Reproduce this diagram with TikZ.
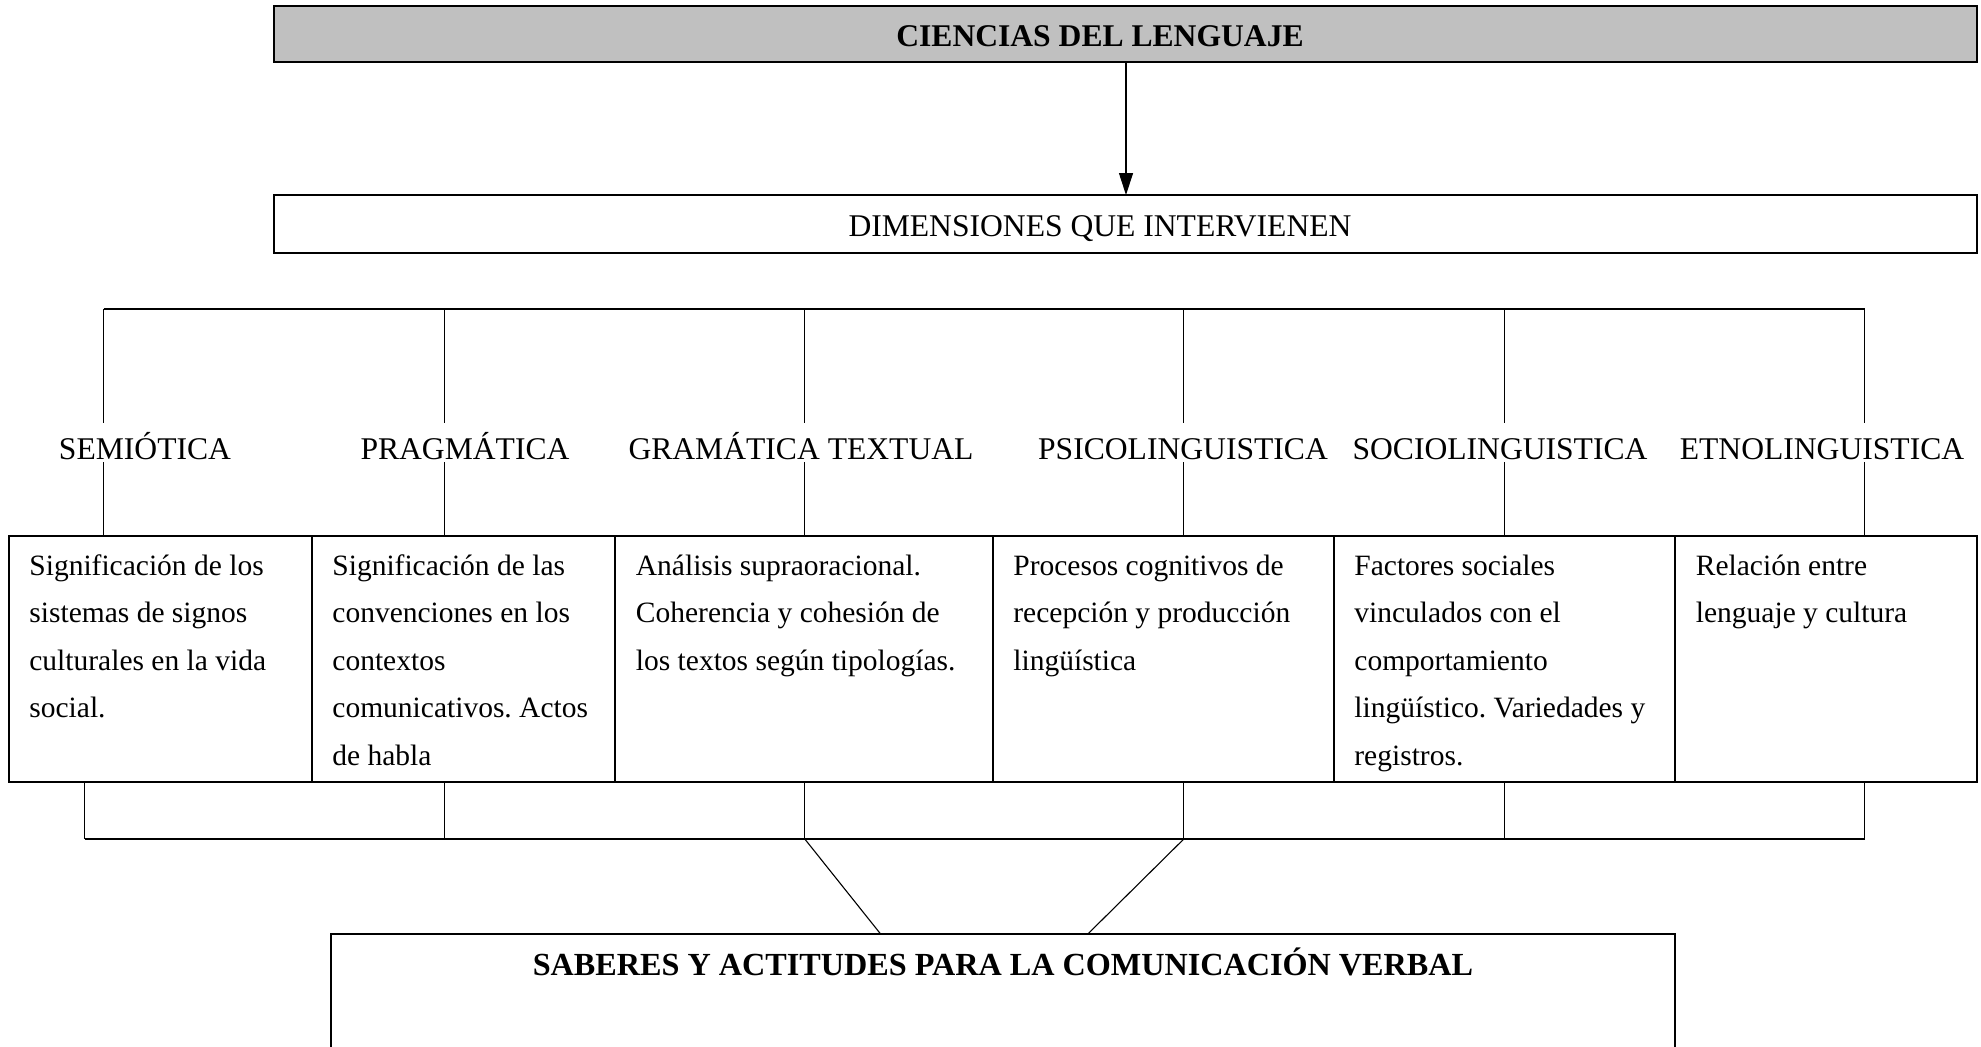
\documentclass[tikz,border=0pt]{standalone}
\usepackage{fontspec}
\setmainfont{Liberation Serif}
\usetikzlibrary{arrows.meta}
\definecolor{boxgray}{HTML}{C0C0C0}
\frenchspacing
\tikzset{
  box/.style={draw=black, line width=0.9pt, inner sep=0pt, outer sep=0pt},
  cell/.style={draw=black, line width=0.9pt, inner sep=0pt, outer sep=0pt, anchor=north west, minimum height=123pt},
  conn/.style={draw=black, line width=0.55pt},
  bar/.style={draw=black, line width=1pt},
  lbl/.style={fill=white, inner xsep=0pt, inner ysep=0pt, text height=18pt, text depth=1.5pt, anchor=base, font=\fontsize{15.8}{19}\selectfont},
  ttl/.style={anchor=base, inner sep=0pt, font=\fontsize{15.8}{19}\selectfont},
  celltext/.style={anchor=base west, inner sep=0pt, font=\fontsize{14.75}{23.8}\selectfont},
}
\newcommand{\celltxt}[2]{\parbox[t]{#1}{\raggedright #2}}
\begin{document}
\begin{tikzpicture}[x=0.5pt, y=-0.5pt]
\useasboundingbox (0,0) rectangle (1981,1046);
\clip (0,0) rectangle (1981,1046);
\fill[white] (0,0) rectangle (1981,1046);

% top boxes
\node[box, fill=boxgray, minimum width=851.5pt, minimum height=28pt] (top) at (1125.5,34) {};
\node[ttl] (toptxt) at (1100,46) {\bfseries CIENCIAS DEL LENGUAJE};
\node[box, minimum width=851.5pt, minimum height=29pt] (dim) at (1125.5,224) {};
\node[ttl] (dimtxt) at (1100,236) {DIMENSIONES QUE INTERVIENEN};
\draw[conn, -{Triangle[length=11pt, width=7pt]}] (top.south -| 1126,0) -- (dim.north -| 1126,0);

% cells
\node[cell, minimum width=151.6pt] (c1) at (8.8,536) {};
\node[cell, minimum width=151.5pt] (c2) at (312,536) {};
\node[cell, minimum width=189pt] (c3) at (615,536) {};
\node[cell, minimum width=170.5pt] (c4) at (993,536) {};
\node[cell, minimum width=170.5pt] (c5) at (1334,536) {};
\node[cell, minimum width=151pt] (c6) at (1675,536) {};

\node[celltext] (x1) at (29,575) {\celltxt{140pt}{Significación de los\\sistemas de signos\\culturales en la vida\\social.}};
\node[celltext] (x2) at (332,575) {\celltxt{140pt}{Significación de las\\convenciones en los\\contextos\\comunicativos. Actos\\de habla}};
\node[celltext] (x3) at (635.5,575) {\celltxt{180pt}{Análisis supraoracional.\\Coherencia y cohesión de\\los textos según tipologías.}};
\node[celltext] (x4) at (1013,575) {\celltxt{160pt}{Procesos cognitivos de\\recepción y producción\\lingüística}};
\node[celltext] (x5) at (1354,575) {\celltxt{160pt}{Factores sociales\\vinculados con el\\comportamiento\\lingüístico. Variedades y\\registros.}};
\node[celltext] (x6) at (1695.5,575) {\celltxt{140pt}{Relación entre\\lenguaje y cultura}};

% top bracket
\coordinate (t1) at (103.6,309);
\coordinate (t2) at (444.7,309);
\coordinate (t3) at (804.8,309);
\coordinate (t4) at (1183.8,309);
\coordinate (t5) at (1504.7,309);
\coordinate (t6) at (1864.8,309);
\draw[bar] (t1) -- (t6);
\draw[conn] (t1) -- (t1 |- c1.north);
\draw[conn] (t2) -- (t2 |- c2.north);
\draw[conn] (t3) -- (t3 |- c3.north);
\draw[conn] (t4) -- (t4 |- c4.north);
\draw[conn] (t5) -- (t5 |- c5.north);
\draw[conn] (t6) -- (t6 |- c6.north);

% labels
\node[lbl] (l1) at (145,459) {SEMIÓTICA};
\node[lbl] (l2) at (465,459) {PRAGMÁTICA};
\node[lbl] (l3) at (801,459) {GRAMÁTICA TEXTUAL};
\node[lbl] (l4) at (1183,459) {PSICOLINGUISTICA};
\node[lbl] (l5) at (1500,459) {SOCIOLINGUISTICA};
\node[lbl] (l6) at (1822,459) {ETNOLINGUISTICA};

% bottom bracket
\coordinate (b1) at (84.6,839);
\coordinate (b2) at (444.7,839);
\coordinate (b3) at (804.8,839);
\coordinate (b4) at (1183.8,839);
\coordinate (b5) at (1504.7,839);
\coordinate (b6) at (1864.8,839);
\draw[bar] (b1) -- (b6);
\draw[conn] (b1 |- c1.south) -- (b1);
\draw[conn] (b2 |- c2.south) -- (b2);
\draw[conn] (b3 |- c3.south) -- (b3);
\draw[conn] (b4 |- c4.south) -- (b4);
\draw[conn] (b5 |- c5.south) -- (b5);
\draw[conn] (b6 |- c6.south) -- (b6);

% bottom box
\node[box, minimum width=672pt, minimum height=83pt] (sab) at (1003,1017) {};
\node[ttl, font=\fontsize{16.1}{19}\selectfont] (sabtxt) at (1003,975) {\bfseries SABERES Y ACTITUDES PARA LA COMUNICACIÓN VERBAL};
\coordinate (d1) at (880.6,934);
\coordinate (d2) at (1087.8,934);
\draw[conn] (b3) -- (d1);
\draw[conn] (b4) -- (d2);
\end{tikzpicture}
\end{document}
